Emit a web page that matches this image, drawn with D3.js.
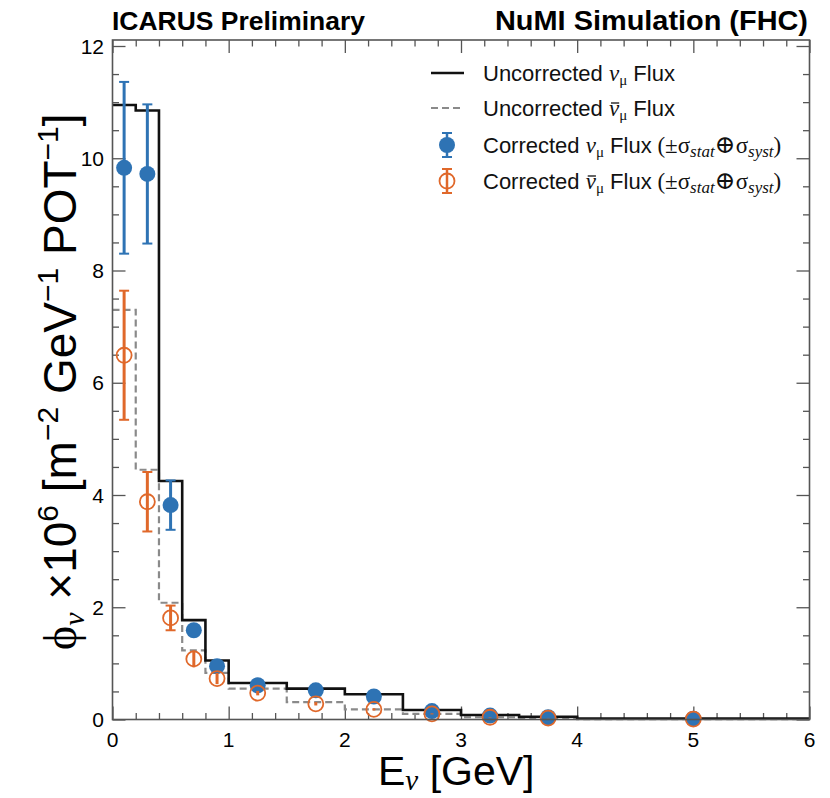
<!DOCTYPE html>
<html lang="en">
<head>
    <meta charset="UTF-8">
    <title>ICARUS NuMI flux</title>
    <style>
        body,
        html {
            margin: 0;
            padding: 0;
            background: #fff;
        }
        text {
            font-family: "Liberation Sans", Arial, sans-serif;
        }
        .serif {
            font-family: "Liberation Serif", "DejaVu Serif", serif;
        }
    </style>
    <script src="https://d3js.org/d3.v7.min.js"></script>
</head>
<body>
<div id="chart"></div>
<script>
    // bin edges (GeV) and histogram contents
    const binEdges = [0, 0.2, 0.4, 0.6, 0.8, 1.0, 1.5, 2.0, 2.5, 3.0, 3.5, 4.0, 6.0];
    const numuFlux = [10.95, 10.85, 4.25, 1.77, 1.05, 0.65, 0.55, 0.45, 0.17, 0.08, 0.05, 0.015];
    const numubarFlux = [7.3, 4.45, 2.08, 1.23, 0.83, 0.55, 0.31, 0.18, 0.1, 0.04, 0.025, 0.008];

    // corrected points at bin centres
    const pointE = [0.1, 0.3, 0.5, 0.7, 0.9, 1.25, 1.75, 2.25, 2.75, 3.25, 3.75, 5.0];
    const numuCorr = [9.83, 9.72, 3.82, 1.59, 0.95, 0.61, 0.52, 0.41, 0.15, 0.07, 0.04, 0.015];
    const numuErr = [1.53, 1.24, 0.44, 0.12, 0.06, 0.04, 0.03, 0.03, 0.02, 0.01, 0.005, 0.003];
    const numubarCorr = [6.49, 3.88, 1.81, 1.08, 0.73, 0.47, 0.28, 0.18, 0.1, 0.04, 0.025, 0.008];
    const numubarErr = [1.15, 0.53, 0.22, 0.15, 0.1, 0.04, 0.03, 0.02, 0.01, 0.005, 0.003, 0.002];

    const xMajor = [0, 1, 2, 3, 4, 5, 6];
    const yMajor = [0, 2, 4, 6, 8, 10, 12];

    const W = 830, H = 798;
    const blue = '#2e73b4', orange = '#e0682a', frame = '#555';

    const svg = d3.select('#chart').append('svg')
        .attr('width', W).attr('height', H);

    const x = d3.scaleLinear().domain([0, 6]).range([112.5, 809.5]);
    const y = d3.scaleLinear().domain([0, 12]).range([719.5, 46]);
    const yTop = y.invert(40);

    const xMinor = d3.range(0, 6.001, 0.2).filter(v => Math.abs(v - Math.round(v)) > 1e-6);
    const yMinor = d3.range(0, 12.001, 0.5).filter(v => Math.abs(v / 2 - Math.round(v / 2)) > 1e-6);

    function tickAxis(axisFn, scale, values, size, g) {
        g.call(axisFn(scale).tickValues(values).tickSize(size).tickFormat(''));
        g.select('.domain').remove();
        g.selectAll('line').attr('stroke', frame).attr('stroke-width', 1.3);
    }

    // ticks (inside, ROOT style)
    const x0 = x.range()[0], x1 = x.range()[1], y0 = y(0), y1 = y(yTop);
    [[d3.axisBottom, x, `translate(0,${y0})`],
     [d3.axisTop, x, `translate(0,${y1})`],
     [d3.axisLeft, y, `translate(${x0},0)`],
     [d3.axisRight, y, `translate(${x1},0)`]].forEach(([fn, sc, tr]) => {
        const isX = sc === x;
        tickAxis(fn, sc, isX ? xMajor : yMajor, -13, svg.append('g').attr('transform', tr));
        tickAxis(fn, sc, isX ? xMinor : yMinor, -6.5, svg.append('g').attr('transform', tr));
    });

    // tick labels
    svg.append('g').selectAll('text').data(xMajor).join('text')
        .attr('x', d => x(d)).attr('y', 747)
        .attr('text-anchor', 'middle').attr('font-size', 21)
        .text(d => d);
    svg.append('g').selectAll('text').data(yMajor).join('text')
        .attr('x', 104).attr('y', d => y(d) + 7.5)
        .attr('text-anchor', 'end').attr('font-size', 21)
        .text(d => d);

    // histograms
    const stepLine = d3.line().x(d => x(d[0])).y(d => y(d[1])).curve(d3.curveStepAfter);
    const histPts = vals => binEdges.map((e, i) => [e, vals[Math.min(i, vals.length - 1)]]);

    svg.append('path').datum(histPts(numubarFlux))
        .attr('d', stepLine).attr('fill', 'none')
        .attr('stroke', '#8a8a8a').attr('stroke-width', 2.2)
        .attr('stroke-dasharray', '7,4');
    svg.append('path').datum(histPts(numuFlux))
        .attr('d', stepLine).attr('fill', 'none')
        .attr('stroke', '#111').attr('stroke-width', 2.6);

    function drawPoints(vals, errs, color, filled) {
        const g = svg.append('g');
        const data = pointE.map((e, i) => ({e: e, v: vals[i], err: errs[i]}));
        g.selectAll('line.bar').data(data).join('line')
            .attr('x1', d => x(d.e)).attr('x2', d => x(d.e))
            .attr('y1', d => y(d.v - d.err)).attr('y2', d => y(d.v + d.err))
            .attr('stroke', color).attr('stroke-width', 3);
        ['lo', 'hi'].forEach(k => {
            g.selectAll('line.cap' + k).data(data.filter(d => y(d.v - d.err) - y(d.v + d.err) > 18)).join('line')
                .attr('x1', d => x(d.e) - 5).attr('x2', d => x(d.e) + 5)
                .attr('y1', d => y(k === 'lo' ? d.v - d.err : d.v + d.err))
                .attr('y2', d => y(k === 'lo' ? d.v - d.err : d.v + d.err))
                .attr('stroke', color).attr('stroke-width', 2);
        });
        g.selectAll('circle').data(data).join('circle')
            .attr('cx', d => x(d.e)).attr('cy', d => y(d.v))
            .attr('r', filled ? 8 : 7.5)
            .attr('fill', filled ? color : 'none')
            .attr('stroke', color).attr('stroke-width', filled ? 0 : 1.8);
    }
    drawPoints(numuCorr, numuErr, blue, true);
    drawPoints(numubarCorr, numubarErr, orange, false);

    // frame
    svg.append('rect')
        .attr('x', x0).attr('y', y1).attr('width', x1 - x0).attr('height', y0 - y1)
        .attr('fill', 'none').attr('stroke', frame).attr('stroke-width', 1.6);

    // header texts
    svg.append('text').attr('x', 112).attr('y', 30)
        .attr('font-size', 26).attr('font-weight', 'bold')
        .attr('textLength', 253).attr('lengthAdjust', 'spacingAndGlyphs')
        .text('ICARUS Preliminary');
    svg.append('text').attr('x', 495).attr('y', 30)
        .attr('font-size', 27).attr('font-weight', 'bold')
        .attr('textLength', 313).attr('lengthAdjust', 'spacingAndGlyphs')
        .text('NuMI Simulation (FHC)');

    // axis titles
    const xt = svg.append('text').attr('x', 378).attr('y', 785)
        .attr('font-size', 41);
    xt.append('tspan').text('E');
    xt.append('tspan').attr('class', 'serif').attr('font-style', 'italic')
        .attr('font-size', 29).attr('dy', 5).text('\u03bd');
    xt.append('tspan').attr('dy', -5).text(' [GeV]');

    const yt = svg.append('text')
        .attr('transform', 'translate(76,650) rotate(-90)')
        .attr('font-size', 46);
    yt.append('tspan').attr('class', 'serif').text('\u03d5');
    yt.append('tspan').attr('class', 'serif').attr('font-style', 'italic')
        .attr('font-size', 30).attr('dy', 8).text('\u03bd');
    yt.append('tspan').attr('dy', -8).text(' \u00d710');
    yt.append('tspan').attr('font-size', 30).attr('dy', -18).text('6');
    yt.append('tspan').attr('dy', 18).text(' [m');
    yt.append('tspan').attr('font-size', 30).attr('dy', -18).text('\u22122');
    yt.append('tspan').attr('dy', 18).text(' GeV');
    yt.append('tspan').attr('font-size', 30).attr('dy', -18).text('\u22121');
    yt.append('tspan').attr('dy', 18).text(' POT');
    yt.append('tspan').attr('font-size', 30).attr('dy', -18).text('\u22121');
    yt.append('tspan').attr('dy', 18).text(']');

    // legend
    const legendRows = [
        {y: 73, kind: 'solid', bar: false, err: false},
        {y: 108, kind: 'dashed', bar: true, err: false},
        {y: 145, kind: 'filled', bar: false, err: true},
        {y: 181, kind: 'open', bar: true, err: true}
    ];
    const leg = svg.append('g');
    legendRows.forEach(r => {
        if (r.kind === 'solid' || r.kind === 'dashed') {
            leg.append('line').attr('x1', 431).attr('x2', 464).attr('y1', r.y).attr('y2', r.y)
                .attr('stroke', r.kind === 'solid' ? '#111' : '#8a8a8a')
                .attr('stroke-width', r.kind === 'solid' ? 2.6 : 2.2)
                .attr('stroke-dasharray', r.kind === 'solid' ? null : '7,4');
        } else {
            const c = r.kind === 'filled' ? blue : orange;
            leg.append('line').attr('x1', 447).attr('x2', 447).attr('y1', r.y - 12).attr('y2', r.y + 12)
                .attr('stroke', c).attr('stroke-width', 2.5);
            [-12, 12].forEach(d => leg.append('line').attr('x1', 442).attr('x2', 452)
                .attr('y1', r.y + d).attr('y2', r.y + d).attr('stroke', c).attr('stroke-width', 2));
            leg.append('circle').attr('cx', 447).attr('cy', r.y).attr('r', r.kind === 'filled' ? 8 : 7.5)
                .attr('fill', r.kind === 'filled' ? c : 'none')
                .attr('stroke', c).attr('stroke-width', r.kind === 'filled' ? 0 : 1.8);
        }
        const t = leg.append('text').attr('x', 483).attr('y', r.y + 7.5).attr('font-size', 22).attr('fill', '#111');
        const pre = r.err ? 'Corrected ' : 'Uncorrected ';
        t.append('tspan').text(pre);
        t.append('tspan').attr('class', 'serif').attr('font-style', 'italic').attr('font-size', 23).text('\u03bd');
        t.append('tspan').attr('class', 'serif').attr('font-size', 15).attr('dy', 4).text('\u03bc');
        t.append('tspan').attr('dy', -4).text(' Flux');
        if (r.err) {
            t.append('tspan').attr('class', 'serif').attr('font-size', 23).text(' (\u00b1\u03c3');
            t.append('tspan').attr('class', 'serif').attr('font-style', 'italic').attr('font-size', 17)
                .attr('dy', 4).text('stat');
            t.append('tspan').attr('class', 'serif').attr('font-size', 25).attr('dy', -4).text('\u2295');
            t.append('tspan').attr('class', 'serif').attr('font-size', 23).text('\u03c3');
            t.append('tspan').attr('class', 'serif').attr('font-style', 'italic').attr('font-size', 17)
                .attr('dy', 4).text('syst');
            t.append('tspan').attr('class', 'serif').attr('font-size', 23).attr('dy', -4).text(')');
        }
        if (r.bar) {
            // macron over the nu
            const b = t.node().getExtentOfChar(pre.length);
            leg.append('line')
                .attr('x1', b.x + 2).attr('x2', b.x + b.width)
                .attr('y1', r.y - 5).attr('y2', r.y - 5)
                .attr('stroke', '#111').attr('stroke-width', 1.3);
        }
    });
</script>
</body>
</html>
